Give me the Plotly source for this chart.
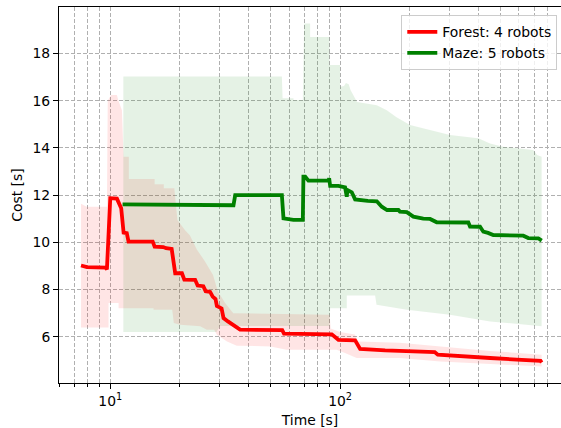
import plotly.graph_objects as go

# ---------------- data ----------------
forest_t = [7.46, 7.92, 9.55, 9.67, 10.0, 10.69, 11.16, 11.43, 11.8, 12.01, 15.3, 15.6, 17.0, 17.5, 18.5,
            19.17, 20.5, 21.0, 23.4, 24.0, 25.4, 26.0, 27.2, 27.9, 28.7, 29.1, 30.5, 31.1, 32.5, 33.3,
            35.0, 36.7, 56.0, 57.0, 92.0, 98.3, 116.2, 122.2, 157.0, 182.0, 226.0, 258.0, 266.0, 300.0,
            449.0, 587.0, 716.0, 745.0, 753.0]
forest_cost = [9.02, 8.95, 8.93, 8.85, 11.87, 11.85, 11.44, 10.41, 10.39, 10.03, 10.03, 9.82, 9.80, 9.75, 9.72,
               8.69, 8.69, 8.42, 8.41, 8.17, 8.14, 7.93, 7.90, 7.70, 7.60, 7.30, 7.20, 6.79, 6.65, 6.58,
               6.40, 6.30, 6.28, 6.13, 6.10, 5.87, 5.85, 5.48, 5.42, 5.40, 5.38, 5.35, 5.24, 5.20,
               5.10, 5.03, 5.00, 4.98, 4.91]

forest_up_t = [7.46, 7.9, 9.67, 9.75, 10.07, 10.69, 10.83, 11.24, 11.43, 12.05, 12.05, 15.6, 15.6, 17.1, 17.1,
               19.0, 19.6, 21.2, 22.2, 23.8, 25.8, 28.0, 29.4, 31.6, 34.3, 90.0, 91.0, 100.0, 116.0, 120.0,
               182.0, 272.0, 449.0, 753.0]
forest_up = [11.63, 11.51, 11.51, 16.0, 16.24, 16.24, 16.03, 15.6, 13.63, 13.63, 12.68, 12.68, 12.46, 12.46, 12.29,
             12.29, 10.95, 10.5, 10.3, 9.7, 9.2, 8.62, 7.92, 7.43, 7.0, 6.93, 6.35, 6.2, 6.1, 5.8,
             5.75, 5.6, 5.4, 5.24]
forest_lo_t = [7.46, 9.83, 9.83, 10.87, 10.87, 15.43, 15.43, 18.6, 18.9, 20.1, 24.6, 26.3, 28.3, 29.1, 32.2,
               35.5, 49.8, 58.4, 96.4, 105.0, 118.0, 182.0, 272.0, 449.0, 753.0]
forest_lo = [6.39, 6.39, 7.43, 7.43, 7.21, 7.21, 7.14, 7.14, 6.58, 6.51, 6.44, 6.30, 6.30, 6.08, 5.80,
             5.62, 5.59, 5.45, 5.45, 5.31, 5.10, 5.10, 4.95, 4.85, 4.74]

maze_t = [11.31, 24.6, 25.0, 34.36, 34.96, 55.8, 56.7, 61.66, 62.66, 68.83, 69.24, 70.5, 72.8, 88.95, 89.6,
          90.5, 98.3, 105.1, 106.9, 107.6, 112.4, 116.2, 130.6, 132.0, 144.4, 151.8, 160.0, 179.3, 182.0,
          195.0, 208.3, 230.0, 246.2, 263.3, 361.3, 367.5, 406.2, 419.8, 440.0, 464.0, 626.6, 658.7,
          728.1, 753.4]
maze_cost = [11.61, 11.60, 11.57, 11.57, 12.0, 12.0, 11.02, 10.98, 10.95, 10.95, 12.78, 12.78, 12.61, 12.61, 12.71,
             12.39, 12.39, 12.33, 11.93, 12.22, 12.12, 11.82, 11.80, 11.76, 11.74, 11.51, 11.37, 11.37, 11.30,
             11.28, 11.09, 11.0, 10.99, 10.85, 10.84, 10.67, 10.66, 10.45, 10.40, 10.31, 10.28, 10.18,
             10.17, 10.07]

maze_up_t = [11.4, 55.8, 56.2, 62.7, 62.7, 68.83, 69.75, 74.06, 74.06, 89.85, 89.85, 100.0, 100.0, 104.0, 106.0,
             109.0, 111.0, 116.0, 118.5, 144.4, 159.6, 176.0, 201.5, 229.4, 300.8, 399.3, 449.0, 512.0,
             692.0, 720.0, 753.0]
maze_up = [17.03, 17.03, 16.1, 16.1, 16.03, 16.03, 19.27, 19.27, 18.7, 18.7, 17.51, 17.51, 16.59, 16.62, 16.75,
           16.7, 16.45, 16.1, 15.95, 15.81, 15.6, 15.3, 14.97, 14.83, 14.55, 14.41, 14.19, 14.05,
           13.91, 13.7, 13.63]
maze_lo_t = [11.4, 29.0, 30.0, 90.0, 90.5, 106.9, 106.9, 142.0, 144.0, 195.0, 300.0, 449.0, 753.0]
maze_lo = [6.2, 6.2, 6.45, 6.45, 7.21, 7.21, 7.75, 7.75, 7.35, 7.14, 6.93, 6.65, 6.44]

y_ticks = [6, 8, 10, 12, 14, 16, 18]
x_major_ticks = [10, 100]
x_major_labels = ['10<sup>1</sup>', '10<sup>2</sup>']
x_minor_ticks = [6, 7, 8, 9, 20, 30, 40, 50, 60, 70, 80, 90, 200, 300, 400, 500, 600, 700, 800]

# ---------------- figure ----------------
FONT = 'DejaVu Sans'
FS = 13.9
GRID = '#b0b0b0'

fig = go.Figure()

fig.add_trace(go.Scatter(x=forest_up_t + forest_lo_t[::-1], y=forest_up + forest_lo[::-1],
                         fill='toself', fillcolor='rgba(255,0,0,0.1)', line=dict(width=0),
                         mode='lines', showlegend=False, hoverinfo='skip'))
fig.add_trace(go.Scatter(x=maze_up_t + maze_lo_t[::-1], y=maze_up + maze_lo[::-1],
                         fill='toself', fillcolor='rgba(0,128,0,0.1)', line=dict(width=0),
                         mode='lines', showlegend=False, hoverinfo='skip'))
fig.add_trace(go.Scatter(x=forest_t, y=forest_cost, mode='lines', name='Forest: 4 robots',
                         line=dict(color='#ff0000', width=3.8)))
fig.add_trace(go.Scatter(x=maze_t, y=maze_cost, mode='lines', name='Maze: 5 robots',
                         line=dict(color='#008000', width=3.8)))

fig.update_layout(
    width=561, height=428,
    margin=dict(l=59, r=0, t=7, b=45),
    paper_bgcolor='white', plot_bgcolor='white',
    font=dict(family=FONT, size=FS, color='black'),
    legend=dict(x=0.9926, y=0.978, xanchor='right', yanchor='top',
                bgcolor='rgba(255,255,255,0.8)', bordercolor='#cccccc', borderwidth=1,
                font=dict(size=FS), tracegroupgap=0, itemwidth=30),
)

fig.update_xaxes(
    type='log', range=[0.777, 2.961],
    tickmode='array', tickvals=x_major_ticks, ticktext=x_major_labels,
    ticks='outside', ticklen=5, tickwidth=1, tickcolor='black',
    showgrid=True, gridcolor=GRID, griddash='4px,2px', gridwidth=1,
    minor=dict(tickmode='array', tickvals=x_minor_ticks, ticks='outside', ticklen=3,
               tickwidth=1, tickcolor='black', showgrid=True, gridcolor=GRID,
               griddash='4px,2px', gridwidth=1),
    showline=True, linecolor='black', linewidth=1, mirror=True,
    zeroline=False, automargin=False,
    title=dict(text='Time [s]', standoff=9, font=dict(size=FS)),
)
fig.update_yaxes(
    range=[4.04, 19.97],
    tickmode='array', tickvals=y_ticks,
    ticks='outside', ticklen=5, tickwidth=1, tickcolor='black',
    showgrid=True, gridcolor=GRID, griddash='4px,2px', gridwidth=1,
    showline=True, linecolor='black', linewidth=1, mirror=False,
    zeroline=False, automargin=False,
    title=dict(text='Cost [s]', standoff=6, font=dict(size=FS)),
)

fig.write_html('out.html', config={'displayModeBar': False},
               post_script="document.body.style.margin='0px';")
